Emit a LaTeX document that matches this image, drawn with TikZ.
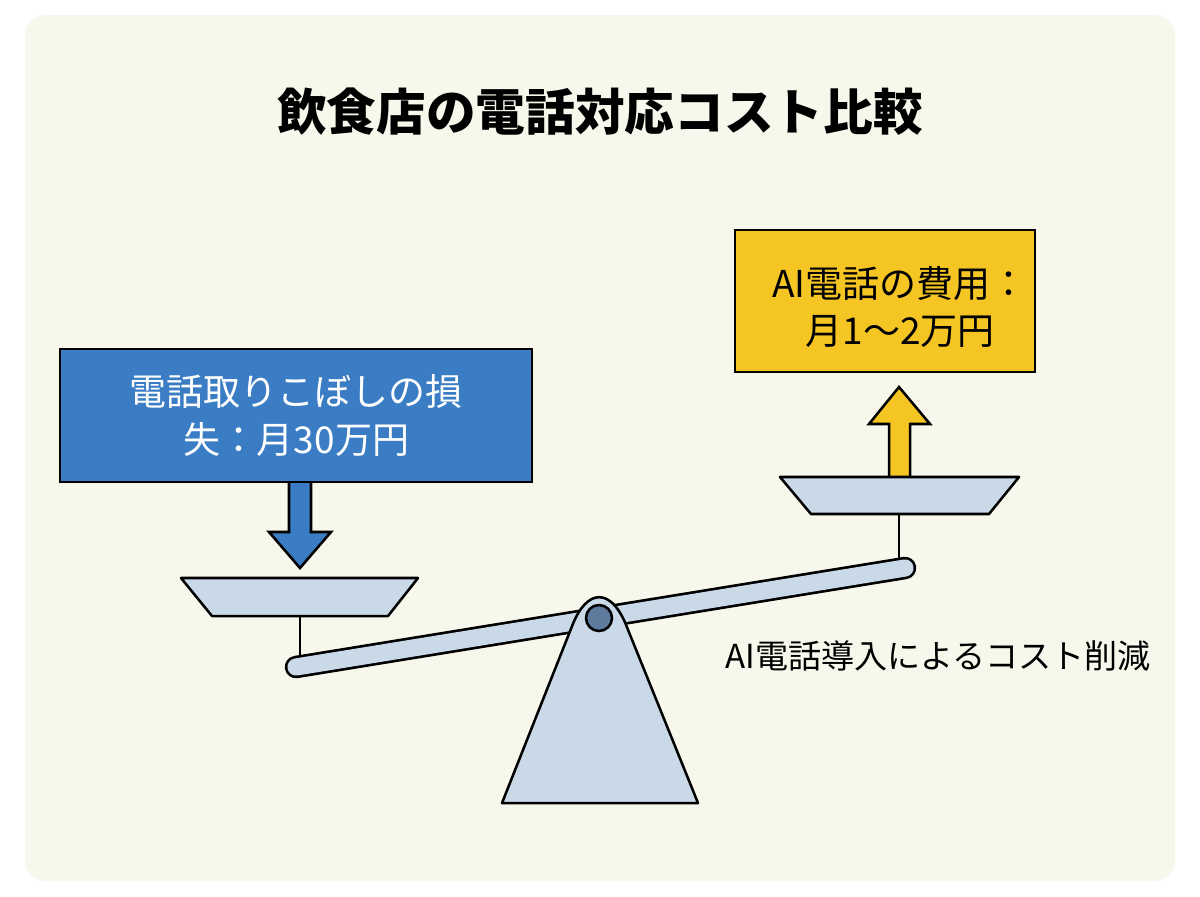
\documentclass[tikz,border=0pt]{standalone}
\usepackage{fontspec}
\newfontfamily\jp{Noto Sans CJK JP}
\usepackage{xcolor}
\usetikzlibrary{positioning}
\definecolor{cream}{HTML}{F7F7EC}
\definecolor{lossblue}{HTML}{3B7DC4}
\definecolor{costyellow}{HTML}{F5C524}
\definecolor{steel}{HTML}{C9D9E8}
\definecolor{pin}{HTML}{5E7B9D}

\begin{document}
\begin{tikzpicture}[
  x=0.025cm, y=-0.025cm,
  font=\jp,
  box/.style={draw, line width=1.8pt, align=center, inner sep=0pt},
  boxtext/.style={font=\jp\fontsize{26.3}{34}\selectfont},
  part/.style={draw, line width=1.8pt, fill=steel, line join=round},
  stem/.style={draw, line width=1.4pt}
]
% background
\fill[white] (0,0) rectangle (1200,896);
\fill[cream, rounded corners=0.5cm] (25,15) rectangle (1175,881);

\node[font=\jp\fontsize{35.3}{42}\selectfont\bfseries] (title) at (600,112) {飲食店の電話対応コスト比較};

% beam and stems
\coordinate (lend) at (296,667);
\coordinate (rend) at (905,568);
\draw[stem] (300,616) -- (300,660);
\draw[stem] (899,514) -- (899,565);
\draw[line width=16pt, line cap=round] (lend) -- (rend);
\draw[steel, line width=12.2pt, line cap=round] (lend) -- (rend);

% fulcrum
\draw[part] (502,803) [rounded corners=1.8cm] -- (599,558) [sharp corners] -- (698,803) -- cycle;
\node[circle, draw, line width=1.8pt, fill=pin, minimum size=0.65cm, inner sep=0pt] (pivot) at (599,618) {};

% arrows
\draw[part, fill=lossblue, line join=miter] (289,482) -- (289,532) -- (269,532) -- (300,568) -- (331,532) -- (311,532) -- (311,482);
\draw[part, fill=costyellow, line join=miter] (889,477) -- (889,424) -- (869,424) -- (899,387) -- (930,424) -- (910,424) -- (910,477);

% pans
\draw[part] (181,578) -- (418,578) -- (388,616) -- (212,616) -- cycle;
\draw[part] (780,477) -- (1019,477) -- (989,514) -- (811,514) -- cycle;

% boxes
\node[box, boxtext, fill=lossblue, text=white, minimum width=11.8cm, minimum height=3.32cm] (loss) at (296,415.5)
  {電話取りこぼしの損\\ 失：月30万円};
\node[box, fill=costyellow, minimum width=7.5cm, minimum height=3.55cm] (cost) at (885,301) {};
\node[boxtext, align=center] (costtext) at (900,307) {AI電話の費用：\\ 月1〜2万円};

\node[font=\jp\fontsize{23.5}{28}\selectfont] (saving) at (938,656) {AI電話導入によるコスト削減};
\end{tikzpicture}
\end{document}
